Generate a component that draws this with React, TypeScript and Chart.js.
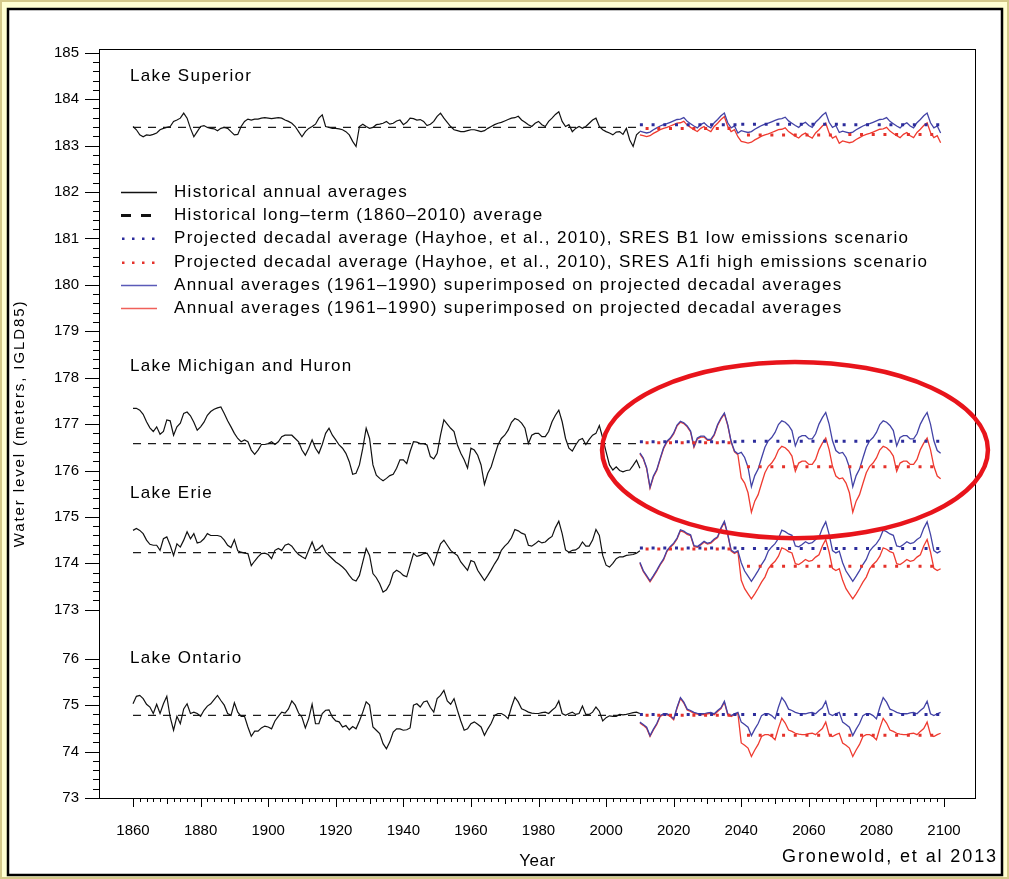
import React, { useEffect, useRef } from "react";
import { Chart, registerables } from "chart.js";

Chart.register(...registerables);

// ---- axis layout values ----
const HIST_START = 1860;
const BASE_PERIOD_START = 1961; // 1961-1990 annual pattern reused in projections
const PERIOD_LENGTH = 30;
const PROJECTION_PERIODS = [2010, 2040, 2070];
const X_TICK_YEARS = [1860, 1880, 1900, 1920, 1940, 1960, 1980, 2000, 2020, 2040, 2060, 2080, 2100];
const Y_TICKS_UPPER = [185, 184, 183, 182, 181, 180, 179, 178, 177, 176, 175, 174, 173];
const Y_TICKS_ONTARIO = [76, 75, 74, 73];

// Lake Ontario sits on its own segment of the axis below Lake Erie
const ONTARIO_SHIFT = 95.945;
const X_MIN = 1850.23;
const X_MAX = 2109.17;
const Y_MAX = 185.08;
const Y_MIN = 73 + ONTARIO_SHIFT;

const LAKE_NAMES = ["Lake Superior", "Lake Michigan and Huron", "Lake Erie", "Lake Ontario"];

// ---- historical annual averages, 1860-2010 (m, IGLD85) ----
const SUPERIOR_HIST = [
  183.41, 183.34, 183.23, 183.19, 183.23, 183.22, 183.24, 183.27, 183.34, 183.37,
  183.39, 183.41, 183.52, 183.55, 183.59, 183.70, 183.59, 183.37, 183.19, 183.30,
  183.41, 183.43, 183.39, 183.37, 183.36, 183.32, 183.37, 183.39, 183.37, 183.30,
  183.23, 183.24, 183.41, 183.52, 183.57, 183.55, 183.57, 183.57, 183.59, 183.60,
  183.59, 183.58, 183.59, 183.60, 183.59, 183.55, 183.52, 183.48, 183.41, 183.30,
  183.19, 183.30, 183.37, 183.41, 183.46, 183.59, 183.66, 183.41, 183.39, 183.37,
  183.37, 183.36, 183.34, 183.30, 183.23, 183.09, 182.98, 183.41, 183.46, 183.41,
  183.37, 183.39, 183.45, 183.46, 183.48, 183.52, 183.46, 183.48, 183.53, 183.55,
  183.45, 183.50, 183.59, 183.58, 183.55, 183.56, 183.52, 183.43, 183.46, 183.52,
  183.63, 183.70, 183.59, 183.50, 183.41, 183.34, 183.32, 183.30, 183.30, 183.32,
  183.34, 183.34, 183.32, 183.30, 183.32, 183.37, 183.41, 183.45, 183.48, 183.50,
  183.53, 183.56, 183.59, 183.60, 183.63, 183.55, 183.50, 183.45, 183.41, 183.48,
  183.52, 183.45, 183.41, 183.52, 183.59, 183.67, 183.73, 183.52, 183.41, 183.45,
  183.30, 183.37, 183.41, 183.37, 183.41, 183.48, 183.55, 183.59, 183.41, 183.34,
  183.30, 183.27, 183.23, 183.29, 183.30, 183.24, 183.37, 183.12, 182.98, 183.23,
  183.30,
];

const MICHIGAN_HURON_HIST = [
  177.34, 177.34, 177.30, 177.21, 177.05, 176.92, 176.84, 176.94, 176.78, 176.84,
  177.09, 177.07, 176.76, 176.94, 177.02, 177.23, 177.26, 177.18, 177.04, 176.87,
  176.94, 177.04, 177.19, 177.27, 177.32, 177.35, 177.37, 177.23, 177.07, 176.94,
  176.80, 176.69, 176.62, 176.66, 176.62, 176.44, 176.35, 176.44, 176.56, 176.56,
  176.58, 176.62, 176.56, 176.62, 176.73, 176.76, 176.76, 176.76, 176.69, 176.62,
  176.44, 176.33, 176.48, 176.66, 176.48, 176.37, 176.56, 176.80, 176.91, 176.76,
  176.66, 176.55, 176.48, 176.37, 176.19, 175.92, 175.94, 176.12, 176.48, 176.91,
  176.69, 176.12, 175.90, 175.83, 175.78, 175.83, 175.89, 175.92, 176.05, 176.23,
  176.23, 176.15, 176.41, 176.62, 176.61, 176.58, 176.58, 176.55, 176.30, 176.25,
  176.37, 176.76, 177.09, 177.00, 176.91, 176.84, 176.55, 176.37, 176.23, 176.05,
  176.48, 176.44, 176.33, 176.12, 175.70, 175.94, 176.08, 176.32, 176.55, 176.69,
  176.76, 176.87, 177.04, 177.12, 177.09, 177.02, 176.91, 176.58, 176.76, 176.80,
  176.80, 176.73, 176.73, 176.84, 177.05, 177.19, 177.30, 177.05, 176.69, 176.48,
  176.42, 176.55, 176.66, 176.69, 176.56, 176.67, 176.76, 176.80, 176.97, 176.70,
  176.40, 176.12, 176.01, 176.08, 176.00, 175.97, 176.00, 176.01, 176.11, 176.22,
  176.05,
];

const ERIE_HIST = [
  174.71, 174.75, 174.71, 174.64, 174.50, 174.41, 174.39, 174.39, 174.28, 174.53,
  174.57, 174.39, 174.17, 174.42, 174.35, 174.50, 174.68, 174.53, 174.64, 174.44,
  174.46, 174.53, 174.64, 174.60, 174.60, 174.60, 174.58, 174.50, 174.39, 174.34,
  174.51, 174.27, 174.24, 174.22, 174.21, 173.95, 174.05, 174.14, 174.21, 174.22,
  174.19, 174.10, 174.28, 174.32, 174.28, 174.39, 174.42, 174.37, 174.27, 174.19,
  174.14, 174.10, 174.28, 174.46, 174.27, 174.32, 174.39, 174.24, 174.17, 174.10,
  174.03, 173.98, 173.92, 173.85, 173.74, 173.65, 173.62, 173.74, 174.03, 174.32,
  174.17, 173.78, 173.69, 173.56, 173.38, 173.43, 173.56, 173.79, 173.85, 173.81,
  173.74, 173.71, 173.96, 174.21, 174.15, 174.17, 174.21, 174.22, 174.10, 173.96,
  174.21, 174.42, 174.50, 174.39, 174.28, 174.22, 174.17, 174.03, 173.94, 173.85,
  174.06, 174.03, 173.85, 173.74, 173.63, 173.74, 173.86, 173.99, 174.10, 174.28,
  174.37, 174.44, 174.55, 174.73, 174.70, 174.65, 174.62, 174.39, 174.37, 174.42,
  174.48, 174.44, 174.46, 174.53, 174.58, 174.77, 174.91, 174.64, 174.29, 174.24,
  174.28, 174.29, 174.34, 174.46, 174.37, 174.37, 174.50, 174.73, 174.60, 174.17,
  173.96, 173.92, 174.00, 174.10, 174.14, 174.14, 174.17, 174.18, 174.19, 174.22,
  174.27,
];

const ONTARIO_HIST = [
  75.03, 75.19, 75.21, 75.14, 75.02, 74.96, 74.82, 75.02, 74.82, 75.03,
  75.19, 74.74, 74.46, 74.76, 74.60, 74.92, 75.03, 74.82, 74.85, 74.82,
  74.76, 74.89, 74.98, 75.03, 75.12, 75.21, 75.10, 75.00, 74.82, 74.78,
  75.05, 74.85, 74.76, 74.76, 74.53, 74.33, 74.44, 74.44, 74.51, 74.55,
  74.53, 74.49, 74.66, 74.76, 74.85, 74.83, 74.92, 75.09, 75.00, 74.83,
  74.74, 74.51, 74.71, 75.02, 74.60, 74.60, 74.82, 74.89, 74.90, 74.74,
  74.66, 74.64, 74.53, 74.56, 74.47, 74.54, 74.49, 74.66, 74.85, 75.07,
  75.00, 74.53, 74.46, 74.39, 74.17, 74.06, 74.21, 74.42, 74.49, 74.49,
  74.46, 74.47, 74.51, 75.00, 75.03, 74.96, 75.07, 75.09, 74.95, 74.85,
  75.14, 75.21, 75.32, 75.09, 75.02, 75.14, 74.89, 74.66, 74.46, 74.49,
  74.60, 74.64, 74.59, 74.53, 74.35, 74.49, 74.61, 74.78, 74.82, 74.82,
  74.78, 74.71, 74.96, 75.17, 75.07, 74.92, 74.89, 74.85, 74.83, 74.82,
  74.82, 74.84, 74.85, 74.82, 74.89, 74.95, 75.09, 74.82, 74.78, 74.82,
  74.85, 74.80, 74.82, 74.98, 74.80, 74.80, 74.85, 74.96, 74.87, 74.66,
  74.73, 74.77, 74.76, 74.76, 74.80, 74.79, 74.80, 74.82, 74.84, 74.85,
  74.82,
];

// ---- historical long-term (1860-2010) averages ----
const LONG_TERM_AVERAGES = [183.39, 176.58, 174.23, 74.78];

// ---- projected averages for 2010-2039, 2040-2069, 2070-2099 ----
const SUPERIOR_B1 = [183.45, 183.46, 183.45];
const SUPERIOR_A1FI = [183.37, 183.23, 183.24];
const MICHIGAN_HURON_B1 = [176.62, 176.63, 176.63];
const MICHIGAN_HURON_A1FI = [176.6, 176.08, 176.08];
const ERIE_B1 = [174.33, 174.32, 174.32];
const ERIE_A1FI = [174.31, 173.94, 173.94];
const ONTARIO_B1 = [74.8, 74.8, 74.8];
const ONTARIO_A1FI = [74.78, 74.35, 74.35];

const LAKE_SHIFTS = [0, 0, 0, ONTARIO_SHIFT];
const LAKE_TITLE_LEVELS = [184.5, 178.25, 175.5, 76];

const LAKES = [
  { hist: SUPERIOR_HIST, b1: SUPERIOR_B1, a1fi: SUPERIOR_A1FI },
  { hist: MICHIGAN_HURON_HIST, b1: MICHIGAN_HURON_B1, a1fi: MICHIGAN_HURON_A1FI },
  { hist: ERIE_HIST, b1: ERIE_B1, a1fi: ERIE_A1FI },
  { hist: ONTARIO_HIST, b1: ONTARIO_B1, a1fi: ONTARIO_A1FI },
].map((l, i) => ({ ...l, name: LAKE_NAMES[i], avg: LONG_TERM_AVERAGES[i], shift: LAKE_SHIFTS[i], titleLevel: LAKE_TITLE_LEVELS[i] }));

const LEGEND_LABELS = [
  "Historical annual averages",
  "Historical long\u2013term (1860\u20132010) average",
  "Projected decadal average (Hayhoe, et al., 2010), SRES B1 low emissions scenario",
  "Projected decadal average (Hayhoe, et al., 2010), SRES A1fi high emissions scenario",
  "Annual averages (1961\u20131990) superimposed on projected decadal averages",
  "Annual averages (1961\u20131990) superimposed on projected decadal averages",
];

// highlighted region around the upper-lake projections (year, level, half-width in years, half-height in m)
const HIGHLIGHT = { year: 2055.9, level: 176.44, halfYears: 57.1, halfMeters: 1.9 };

const COLORS = {
  hist: "#111111",
  avg: "#1c1c1c",
  b1Line: "#4343a6",
  a1fiLine: "#ef3b30",
  b1Dot: "#2c2c9c",
  a1fiDot: "#e5322b",
  legendB1: "#5a5ab8",
  legendA1fi: "#f0605a",
  ellipse: "#e8141b",
};

const FONT = "'Liberation Sans', Arial, Helvetica, sans-serif";

function buildDatasets() {
  const sets: any[] = [];
  LAKES.forEach((lake) => {
    const s = lake.shift;
    const i0 = BASE_PERIOD_START - HIST_START;
    const base = lake.hist.slice(i0, i0 + PERIOD_LENGTH);
    const baseMean = base.reduce((a, b) => a + b, 0) / base.length;
    const superimpose = (levels: number[]) =>
      PROJECTION_PERIODS.flatMap((start, p) =>
        base.map((v, k) => ({ x: start + k, y: levels[p] + (v - baseMean) + s }))
      );
    const decadal = (levels: number[]) =>
      PROJECTION_PERIODS.flatMap((start, p) => [
        { x: start, y: levels[p] + s },
        { x: start + PERIOD_LENGTH - 1, y: levels[p] + s },
        { x: start + PERIOD_LENGTH - 0.5, y: null },
      ]);
    const common = { pointRadius: 0, fill: false, tension: 0, spanGaps: false };
    sets.push({ ...common, data: decadal(lake.b1), borderColor: COLORS.b1Dot, borderWidth: 3, borderDash: [3, 8.7], order: 1 });
    sets.push({ ...common, data: decadal(lake.a1fi), borderColor: COLORS.a1fiDot, borderWidth: 3, borderDash: [3, 8.7], borderDashOffset: 6, order: 2 });
    sets.push({ ...common, data: superimpose(lake.b1), borderColor: COLORS.b1Line, borderWidth: 1.3, order: 3 });
    sets.push({ ...common, data: superimpose(lake.a1fi), borderColor: COLORS.a1fiLine, borderWidth: 1.3, order: 4 });
    sets.push({ ...common, data: lake.hist.map((v, i) => ({ x: HIST_START + i, y: v + s })), borderColor: COLORS.hist, borderWidth: 1.2, order: 5 });
    sets.push({
      ...common,
      data: [
        { x: HIST_START, y: lake.avg + s },
        { x: HIST_START + lake.hist.length - 1, y: lake.avg + s },
      ],
      borderColor: COLORS.avg,
      borderWidth: 1.3,
      borderDash: [8, 7],
      order: 6,
    });
  });
  return sets;
}

function drawText(ctx: any, str: string, x: number, y: number, size: number, spacing: number, align: string = "left") {
  ctx.font = `${size}px ${FONT}`;
  ctx.letterSpacing = `${spacing}px`;
  ctx.textAlign = align;
  ctx.textBaseline = "middle";
  ctx.fillStyle = "#000";
  ctx.fillText(str, x, y);
  ctx.letterSpacing = "0px";
}

const framePlugin = {
  id: "frame",
  beforeDraw(chart: any) {
    const { ctx, width, height } = chart;
    ctx.save();
    ctx.fillStyle = "#ffffd2";
    ctx.fillRect(0, 0, width, height);
    ctx.strokeStyle = "#d4c98a";
    ctx.lineWidth = 2;
    ctx.strokeRect(1, 1, width - 2, height - 2);
    ctx.fillStyle = "#ffffff";
    ctx.fillRect(8, 9, 994, 866);
    ctx.strokeStyle = "#000";
    ctx.lineWidth = 2.5;
    ctx.strokeRect(8, 9, 994, 866);
    ctx.restore();
  },
};

const overlayPlugin = {
  id: "overlay",
  afterDraw(chart: any) {
    const { ctx, chartArea: a, scales } = chart;
    const xs = scales.x;
    const ys = scales.y;
    ctx.save();

    // plot box
    ctx.strokeStyle = "#000";
    ctx.lineWidth = 1;
    ctx.strokeRect(a.left - 0.5, a.top + 0.5, a.right - a.left + 1, a.bottom - a.top);

    // y ticks: majors every metre, minors every 0.2 m
    const yTick = (v: number, major: boolean) => {
      const py = Math.round(ys.getPixelForValue(v)) + 0.5;
      ctx.beginPath();
      ctx.moveTo(a.left - (major ? 15 : 7), py);
      ctx.lineTo(a.left, py);
      ctx.stroke();
    };
    for (let k = 0; k <= 60; k++) yTick(173 + k * 0.2, k % 5 === 0);
    for (let k = 0; k <= 15; k++) yTick(73 + k * 0.2 + ONTARIO_SHIFT, k % 5 === 0);

    // x ticks: majors every 20 years, minors every 2 years
    for (let yr = 1860; yr <= 2100; yr += 2) {
      const px = Math.round(xs.getPixelForValue(yr)) + 0.5;
      const len = yr % 20 === 0 ? 9 : yr % 10 === 0 ? 6 : 4;
      ctx.beginPath();
      ctx.moveTo(px, a.bottom);
      ctx.lineTo(px, a.bottom + len);
      ctx.stroke();
    }

    // lake titles
    LAKES.forEach((lake) => {
      drawText(ctx, lake.name, a.left + 30, ys.getPixelForValue(lake.titleLevel + lake.shift), 17, 1.25);
    });

    // legend
    const legendLevels = [182, 181.5, 181, 180.5, 180, 179.5];
    const sx0 = a.left + 21;
    const sx1 = a.left + 57;
    legendLevels.forEach((lv, i) => {
      const py = Math.round(ys.getPixelForValue(lv)) + 0.5;
      ctx.setLineDash([]);
      if (i === 0 || i === 4 || i === 5) {
        ctx.strokeStyle = i === 0 ? COLORS.hist : i === 4 ? COLORS.legendB1 : COLORS.legendA1fi;
        ctx.lineWidth = 1.3;
        ctx.beginPath();
        ctx.moveTo(sx0, py);
        ctx.lineTo(sx1, py);
        ctx.stroke();
      } else if (i === 1) {
        ctx.fillStyle = "#111";
        ctx.fillRect(sx0, py - 1.5, 10, 3);
        ctx.fillRect(sx0 + 20, py - 1.5, 10, 3);
      } else {
        ctx.fillStyle = i === 2 ? COLORS.b1Dot : COLORS.a1fiDot;
        for (let d = 0; d < 4; d++) ctx.fillRect(sx0 + 1 + d * 10, py - 1, 2.5, 2.5);
      }
      drawText(ctx, LEGEND_LABELS[i], a.left + 74, py, 17, 1.3);
    });

    // axis titles and credit
    ctx.save();
    ctx.translate(20, (a.top + a.bottom) / 2);
    ctx.rotate(-Math.PI / 2);
    drawText(ctx, "Water level (meters, IGLD85)", 0, 0, 15, 1.9, "center");
    ctx.restore();
    drawText(ctx, "Year", (a.left + a.right) / 2, 861, 17, 0.6, "center");
    drawText(ctx, "Gronewold, et al 2013", 998, 857, 18, 1.9, "right");

    // highlight ellipse
    const cx = xs.getPixelForValue(HIGHLIGHT.year);
    const cy = ys.getPixelForValue(HIGHLIGHT.level);
    const rx = xs.getPixelForValue(HIGHLIGHT.year + HIGHLIGHT.halfYears) - cx;
    const ry = cy - ys.getPixelForValue(HIGHLIGHT.level + HIGHLIGHT.halfMeters);
    ctx.strokeStyle = COLORS.ellipse;
    ctx.lineWidth = 4.5;
    ctx.beginPath();
    ctx.ellipse(cx, cy, rx, ry, 0, 0, Math.PI * 2);
    ctx.stroke();

    ctx.restore();
  },
};

export default function App() {
  const canvasRef = useRef<HTMLCanvasElement | null>(null);

  useEffect(() => {
    document.body.style.margin = "0";
    const canvas = canvasRef.current;
    if (!canvas) return;
    const chart = new Chart(canvas, {
      type: "line",
      data: { datasets: buildDatasets() },
      options: {
        animation: false,
        responsive: false,
        maintainAspectRatio: false,
        devicePixelRatio: 1,
        layout: { padding: { left: 0, top: 49, right: 34, bottom: 0 } },
        plugins: { legend: { display: false }, tooltip: { enabled: false } },
        scales: {
          x: {
            type: "linear",
            min: X_MIN,
            max: X_MAX,
            grid: { display: false, drawTicks: false },
            border: { display: false },
            ticks: {
              autoSkip: false,
              maxRotation: 0,
              padding: 24,
              color: "#000",
              font: { family: FONT, size: 15 },
              callback: (v: any) => String(v),
            },
            afterBuildTicks: (axis: any) => {
              axis.ticks = X_TICK_YEARS.map((value) => ({ value }));
            },
            afterFit: (axis: any) => {
              axis.height = 81;
            },
          },
          y: {
            type: "linear",
            min: Y_MIN,
            max: Y_MAX,
            grid: { display: false, drawTicks: false },
            border: { display: false },
            ticks: {
              autoSkip: false,
              padding: 21,
              color: "#000",
              font: { family: FONT, size: 15 },
              callback: (v: any) => String(Math.round(v > 172.5 ? v : v - ONTARIO_SHIFT)),
            },
            afterBuildTicks: (axis: any) => {
              axis.ticks = [...Y_TICKS_UPPER, ...Y_TICKS_ONTARIO.map((t) => t + ONTARIO_SHIFT)].map((value) => ({ value }));
            },
            afterFit: (axis: any) => {
              axis.width = 100;
            },
          },
        },
      },
      plugins: [framePlugin, overlayPlugin],
    });
    return () => chart.destroy();
  }, []);

  return (
    <div style={{ width: 1009, height: 879 }}>
      <canvas ref={canvasRef} width={1009} height={879} style={{ display: "block" }} />
    </div>
  );
}
